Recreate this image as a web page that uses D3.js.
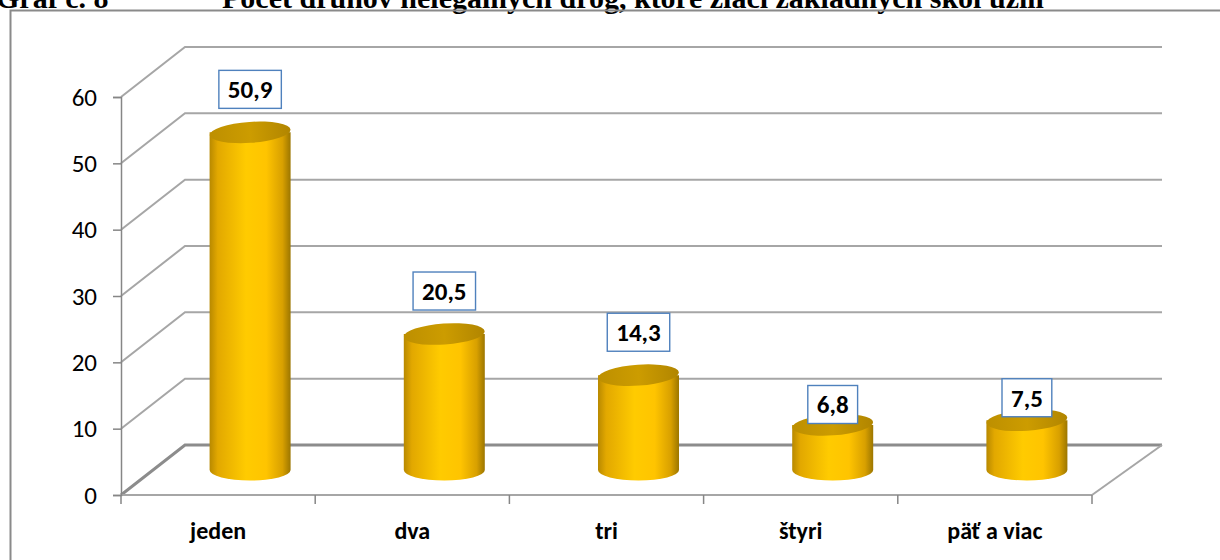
<!DOCTYPE html>
<html>
<head>
<meta charset="utf-8">
<script src="https://cdn.jsdelivr.net/npm/d3@7"></script>
<style>
  body { margin: 0; background: #fff; }
  svg { display: block; }
  text { font-family: Calibri, Carlito, Lato, sans-serif; }
</style>
</head>
<body>
<svg id="chart"></svg>
<script>
const graphWidth = 1220;
const graphHeight = 560;

// data
const categories = ['jeden', 'dva', 'tri', 'štyri', 'päť a viac'];
const values = [50.9, 20.5, 14.3, 6.8, 7.5];
const labels = ['50,9', '20,5', '14,3', '6,8', '7,5'];
const yTicks = [0, 10, 20, 30, 40, 50, 60];
const titleNumber = 'Graf č. 8';
const titleText = 'Počet druhov nelegálnych drog, ktoré žiaci základných škôl užili';

// 3d depth offset of the back wall
const depthX = 64;
const depthY = -50;

const svg = d3
  .select('#chart')
  .attr('width', graphWidth)
  .attr('height', graphHeight);

const defs = svg.append('defs');

const bodyGrad = defs.append('linearGradient').attr('id', 'bodyGrad');
[
  [0, '#b88900'],
  [0.1, '#e2a800'],
  [0.45, '#ffcb00'],
  [0.7, '#ffc400'],
  [0.9, '#d8a000'],
  [1, '#9c7600']
].forEach(s => bodyGrad.append('stop').attr('offset', s[0]).attr('stop-color', s[1]));

const topGrad = defs.append('linearGradient').attr('id', 'topGrad');
[
  [0, '#bd8f00'],
  [0.5, '#cc9c00'],
  [1, '#b18500']
].forEach(s => topGrad.append('stop').attr('offset', s[0]).attr('stop-color', s[1]));

// title, mostly cut off at the top edge (as in the source)
const title = svg
  .append('text')
  .attr('y', 8)
  .style('font-family', '"Liberation Serif", "Times New Roman", serif')
  .style('font-weight', 'bold')
  .style('font-size', '30px');
title.append('tspan').attr('x', -4).text(titleNumber);
title.append('tspan').attr('x', 222).text(titleText);

// outer frame
svg
  .append('rect')
  .attr('x', 10.5)
  .attr('y', 10.5)
  .attr('width', graphWidth)
  .attr('height', graphHeight)
  .attr('fill', 'none')
  .attr('stroke', '#8a8a8a')
  .attr('stroke-width', 2);

const x = d3
  .scaleBand()
  .domain(categories)
  .range([121, 1092]);

const y = d3
  .scaleLinear()
  .domain([0, 60])
  .range([495, 97]);

// back wall grid lines with diagonals to the front axis
const grid = svg.append('g').attr('class', 'grid');
grid
  .selectAll('path')
  .data(yTicks)
  .enter()
  .append('path')
  .attr('d', d => {
    const x0 = x.range()[0];
    return 'M' + x0 + ',' + y(d) +
      'L' + (x0 + depthX) + ',' + (y(d) + depthY) +
      'L' + (x.range()[1] + depthX + 6) + ',' + (y(d) + depthY);
  })
  .attr('fill', 'none')
  .attr('stroke', d => (d === 0 ? '#8c8c8c' : '#a6a6a6'))
  .attr('stroke-width', d => (d === 0 ? 3 : 2));

// floor right edge
grid
  .append('path')
  .attr('d', 'M' + x.range()[1] + ',' + y(0) + 'L' + (x.range()[1] + depthX + 6) + ',' + (y(0) + depthY))
  .attr('fill', 'none')
  .attr('stroke', '#a6a6a6')
  .attr('stroke-width', 2);

// front floor line
svg
  .append('line')
  .attr('x1', x.range()[0])
  .attr('x2', x.range()[1])
  .attr('y1', y(0))
  .attr('y2', y(0))
  .attr('stroke', '#a6a6a6')
  .attr('stroke-width', 2);

// category tick marks at band boundaries
const bounds = categories.map(c => x(c)).concat([x.range()[1]]);
svg
  .append('g')
  .selectAll('line')
  .data(bounds)
  .enter()
  .append('line')
  .attr('x1', d => d)
  .attr('x2', d => d)
  .attr('y1', y(0))
  .attr('y2', y(0) + 9)
  .attr('stroke', '#868686')
  .attr('stroke-width', 1.5);

// y axis
const yAxis = svg
  .append('g')
  .attr('transform', 'translate(' + x.range()[0] + ',0)')
  .call(d3.axisLeft(y).tickValues(yTicks).tickSize(8).tickPadding(16));
yAxis.select('.domain').attr('stroke', '#868686').attr('stroke-width', 1.5);
yAxis.selectAll('.tick line').attr('stroke', '#868686').attr('stroke-width', 1.5);
yAxis
  .selectAll('.tick text')
  .style('font-family', 'Calibri, Carlito, Lato, sans-serif')
  .style('font-size', '25px')
  .attr('fill', '#000');

// category labels
svg
  .append('g')
  .selectAll('text')
  .data(categories)
  .enter()
  .append('text')
  .attr('x', d => x(d) + x.bandwidth() / 2)
  .attr('y', 539)
  .attr('text-anchor', 'middle')
  .style('font-weight', 'bold')
  .style('font-size', '24px')
  .text(d => d);

// cylinders, placed at half depth
const rx = 40.5;
const ry = 10.5;
const midX = depthX / 2;
const midY = depthY / 2;
const bars = categories.map((c, i) => ({
  cx: x(c) + x.bandwidth() / 2 + midX,
  yb: y(0) + midY,
  yt: y(values[i]) + midY,
  value: values[i],
  label: labels[i]
}));

const cyl = svg
  .append('g')
  .selectAll('g')
  .data(bars)
  .enter()
  .append('g');

cyl
  .append('path')
  .attr('d', d =>
    'M' + (d.cx - rx) + ',' + d.yt +
    'L' + (d.cx - rx) + ',' + d.yb +
    'A' + rx + ',' + ry + ' 0 0 0 ' + (d.cx + rx) + ',' + d.yb +
    'L' + (d.cx + rx) + ',' + d.yt + 'Z'
  )
  .attr('fill', 'url(#bodyGrad)');

cyl
  .append('ellipse')
  .attr('cx', d => d.cx)
  .attr('cy', d => d.yt)
  .attr('rx', rx)
  .attr('ry', ry)
  .attr('transform', d => 'rotate(-4,' + d.cx + ',' + d.yt + ')')
  .attr('fill', 'url(#topGrad)');

// data labels in boxes
const lab = svg
  .append('g')
  .selectAll('g')
  .data(bars)
  .enter()
  .append('g')
  .attr('transform', d => 'translate(' + d.cx + ',' + (d.yt - Math.min(43, 3 * d.value)) + ')');

const boxRect = lab.append('rect');
const boxText = lab
  .append('text')
  .attr('text-anchor', 'middle')
  .attr('dy', '0.36em')
  .style('font-weight', 'bold')
  .style('font-size', '25px')
  .text(d => d.label);

boxText.each(function(d) {
  d.tw = this.getComputedTextLength();
});
boxRect
  .attr('x', d => -(d.tw / 2 + 9))
  .attr('y', -19)
  .attr('width', d => d.tw + 18)
  .attr('height', 38)
  .attr('fill', '#fff')
  .attr('stroke', '#4f81bd')
  .attr('stroke-width', 1.4);
</script>
</body>
</html>
